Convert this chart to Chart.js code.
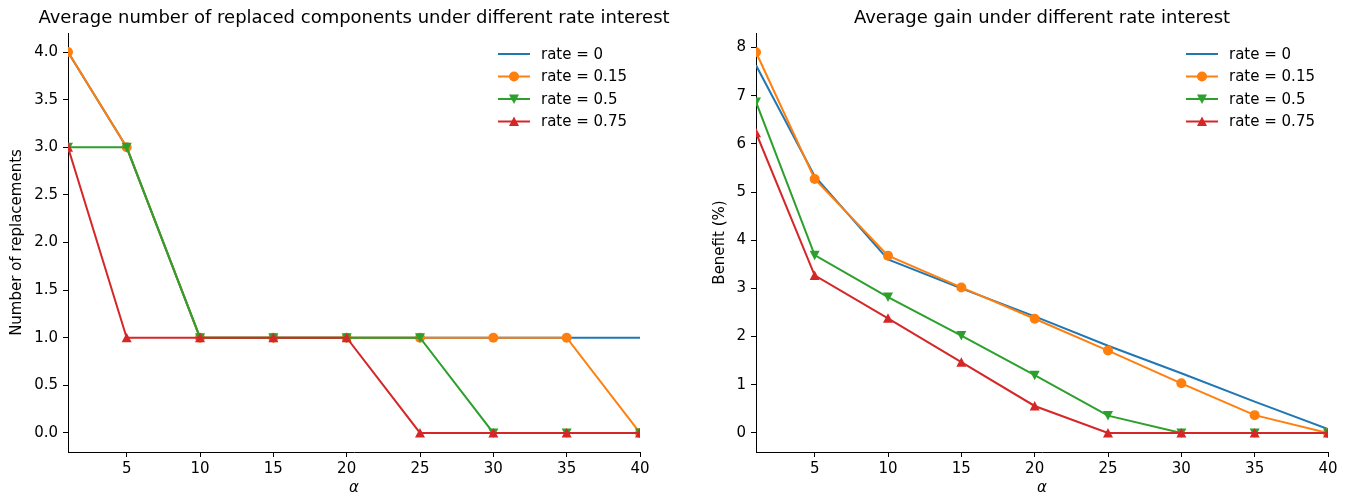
<!DOCTYPE html>
<html>
<head>
<meta charset="utf-8">
<script src="https://cdn.jsdelivr.net/npm/chart.js@4.4.1/dist/chart.umd.min.js"></script>
<style>
  html, body { margin: 0; padding: 0; background: #fff; overflow: hidden; }
  #leftBox { position: absolute; left: 0; top: 0; width: 680px; height: 495px; }
  #rightBox { position: absolute; left: 703px; top: 0; width: 648px; height: 495px; }
</style>
</head>
<body>
<div id="leftBox"><canvas id="replChart"></canvas></div>
<div id="rightBox"><canvas id="gainChart"></canvas></div>
<script>
// x values (alpha)
const alpha = [1, 5, 10, 15, 20, 25, 30, 35, 40];
const alphaTicks = [5, 10, 15, 20, 25, 30, 35, 40];
const rateLabels = ['rate = 0', 'rate = 0.15', 'rate = 0.5', 'rate = 0.75'];

// left plot: number of replacements
const replRate0 = [4, 3, 1, 1, 1, 1, 1, 1, 1];
const replRate015 = [4, 3, 1, 1, 1, 1, 1, 1, 0];
const replRate05 = [3, 3, 1, 1, 1, 1, 0, 0, 0];
const replRate075 = [3, 1, 1, 1, 1, 0, 0, 0, 0];
const replTicks = [0, 0.5, 1, 1.5, 2, 2.5, 3, 3.5, 4];

// right plot: benefit (%)
const gainRate0 = [7.63, 5.33, 3.6, 3.0, 2.42, 1.81, 1.24, 0.65, 0.08];
const gainRate015 = [7.9, 5.27, 3.68, 3.02, 2.37, 1.71, 1.03, 0.37, 0];
const gainRate05 = [6.87, 3.69, 2.82, 2.02, 1.2, 0.36, 0, 0, 0];
const gainRate075 = [6.23, 3.27, 2.38, 1.47, 0.56, 0, 0, 0, 0];
const gainTicks = [0, 1, 2, 3, 4, 5, 6, 7, 8];

const colors = ['#1f77b4', '#ff7f0e', '#2ca02c', '#d62728'];
const markers = [null, 'circle', 'down', 'up'];
const FONT = "'DejaVu Sans', sans-serif";
const TEXT_SIZE = 15;

// draw one marker, used both on the lines and in the legend
function drawMarker(ctx, kind, x, y, r) {
    ctx.beginPath();
    if (kind === 'circle') {
        ctx.arc(x, y, r, 0, Math.PI * 2);
    } else if (kind === 'up') {
        ctx.moveTo(x, y - r);
        ctx.lineTo(x + r, y + r * 0.9);
        ctx.lineTo(x - r, y + r * 0.9);
        ctx.closePath();
    } else if (kind === 'down') {
        ctx.moveTo(x, y + r);
        ctx.lineTo(x + r, y - r * 0.9);
        ctx.lineTo(x - r, y - r * 0.9);
        ctx.closePath();
    }
    ctx.fill();
}

// title centred over the axes, plus legend in the upper right corner
const axesDecor = {
    id: 'axesDecor',
    afterDraw(chart, args, opts) {
        const ctx = chart.ctx;
        const area = chart.chartArea;
        ctx.save();
        ctx.fillStyle = '#000';
        ctx.font = '18px ' + FONT;
        ctx.textAlign = 'center';
        ctx.textBaseline = 'middle';
        ctx.fillText(opts.title, (area.left + area.right) / 2, 18);

        ctx.font = TEXT_SIZE + 'px ' + FONT;
        ctx.textAlign = 'left';
        chart.data.datasets.forEach((ds, i) => {
            const y = area.top + 21 + i * 22.5;
            const x0 = area.right - 142;
            ctx.strokeStyle = ds.borderColor;
            ctx.lineWidth = 2;
            ctx.beginPath();
            ctx.moveTo(x0, y);
            ctx.lineTo(x0 + 32, y);
            ctx.stroke();
            if (markers[i]) {
                ctx.fillStyle = ds.borderColor;
                drawMarker(ctx, markers[i], x0 + 16, y, 5);
            }
            ctx.fillStyle = '#000';
            ctx.fillText(ds.label, area.right - 99, y + 1);
        });
        ctx.restore();
    }
};

// marker drawing on the data points (so triangles match matplotlib)
const pointMarkers = {
    id: 'pointMarkers',
    afterDatasetDraw(chart, args) {
        const i = args.index;
        if (!markers[i]) return;
        const ctx = chart.ctx;
        const area = chart.chartArea;
        ctx.save();
        ctx.beginPath();
        ctx.rect(area.left, area.top, area.right - area.left, area.bottom - area.top);
        ctx.clip();
        ctx.fillStyle = colors[i];
        args.meta.data.forEach(pt => {
            drawMarker(ctx, markers[i], pt.x, pt.y, 5);
        });
        ctx.restore();
    }
};

function makeDatasets(series) {
    return series.map((vals, i) => ({
        label: rateLabels[i],
        data: alpha.map((a, k) => ({ x: a, y: vals[k] })),
        borderColor: colors[i],
        backgroundColor: colors[i],
        borderWidth: 2,
        pointRadius: 0,
        pointHoverRadius: 0,
        order: 4 - i
    }));
}

function makeChart(canvasId, series, yTicks, yMin, yMax, yTitle, title, yDecimals, padRight) {
    return new Chart(document.getElementById(canvasId), {
        type: 'line',
        data: { datasets: makeDatasets(series) },
        plugins: [axesDecor, pointMarkers],
        options: {
            responsive: true,
            maintainAspectRatio: false,
            animation: false,
            layout: { padding: { top: 33, right: padRight, bottom: 0, left: 0 } },
            plugins: {
                legend: { display: false },
                tooltip: { enabled: false },
                axesDecor: { title: title }
            },
            scales: {
                x: {
                    type: 'linear',
                    min: 1,
                    max: 40,
                    afterBuildTicks: s => { s.ticks = alphaTicks.map(v => ({ value: v })); },
                    afterFit: s => { s.height = 43; },
                    grid: { drawOnChartArea: false, drawTicks: true, tickLength: 5, tickColor: '#000' },
                    border: { display: true, color: '#000', width: 1 },
                    ticks: { color: '#000', font: { family: FONT, size: TEXT_SIZE }, padding: 3, maxRotation: 0 },
                    title: { display: true, text: 'α', color: '#000', font: { family: FONT, size: TEXT_SIZE, style: 'italic' }, padding: { top: 0, bottom: -2 } }
                },
                y: {
                    type: 'linear',
                    min: yMin,
                    max: yMax,
                    afterBuildTicks: s => { s.ticks = yTicks.map(v => ({ value: v })); },
                    afterFit: s => { s.width = canvasId === 'replChart' ? 68 : 53; },
                    grid: { drawOnChartArea: false, drawTicks: true, tickLength: 5, tickColor: '#000' },
                    border: { display: true, color: '#000', width: 1 },
                    ticks: {
                        color: '#000',
                        font: { family: FONT, size: TEXT_SIZE },
                        padding: 5,
                        callback: v => v.toFixed(yDecimals)
                    },
                    title: { display: true, text: yTitle, color: '#000', font: { family: FONT, size: TEXT_SIZE }, padding: { top: 8, bottom: 0 } }
                }
            }
        }
    });
}

makeChart('replChart', [replRate0, replRate015, replRate05, replRate075], replTicks, -0.2, 4.2,
    'Number of replacements', 'Average number of replaced components under different rate interest', 1, 40);
makeChart('gainChart', [gainRate0, gainRate015, gainRate05, gainRate075], gainTicks, -0.395, 8.3,
    'Benefit (%)', 'Average gain under different rate interest', 0, 23);
</script>
</body>
</html>
